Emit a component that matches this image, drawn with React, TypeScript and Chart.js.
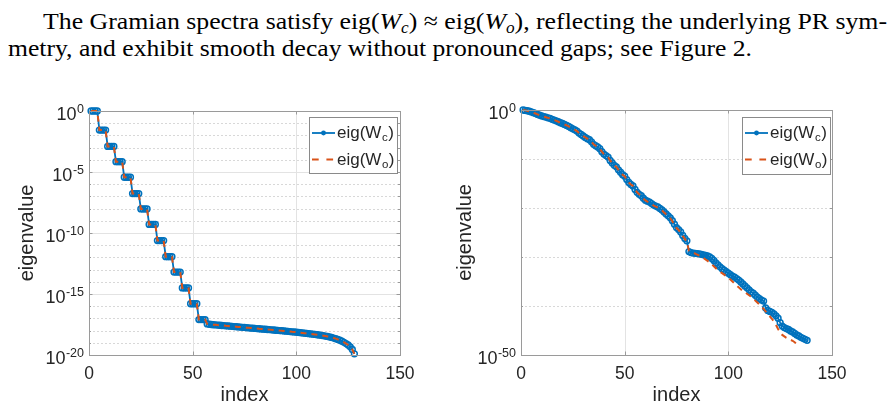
import { useEffect, useLayoutEffect, useRef } from "react";
import { Chart, registerables } from "chart.js";

Chart.register(...registerables);

const INK = "#262626";
const AXIS = "#9a9a9a";
const GRID_MAJOR = "#e3e3e3";
const GRID_MINOR = "#d8d8d8";
const BLUE = "#0072BD";
const ORANGE = "#D95319";
const SANS = '"Liberation Sans", Arial, Helvetica, sans-serif';

// log10 of the Gramian eigenvalues, index 1..N
const leftWcLog = [
  0, 0, 0, 0,
  -1.56, -1.56, -1.56, -1.56,
  -2.9, -2.9, -2.9, -2.9,
  -4.15, -4.15, -4.15, -4.15,
  -5.43, -5.43, -5.43, -5.43,
  -6.77, -6.77, -6.77, -6.77,
  -8.03, -8.03, -8.03, -8.03,
  -9.3, -9.3, -9.3, -9.3,
  -10.62, -10.62, -10.62, -10.62,
  -11.94, -11.94, -11.94, -11.94,
  -13.2, -13.2, -13.2, -13.2,
  -14.5, -14.5, -14.5, -14.5,
  -15.8, -15.8, -15.8, -15.8,
  -17.1, -17.1, -17.1, -17.1,
  -17.45, -17.48, -17.5, -17.52, -17.53, -17.55, -17.56, -17.58, -17.59, -17.61,
  -17.62, -17.64, -17.65, -17.67, -17.68, -17.7, -17.71, -17.73, -17.74, -17.76,
  -17.77, -17.79, -17.8, -17.82, -17.83, -17.85, -17.86, -17.88, -17.89, -17.91,
  -17.92, -17.94, -17.95, -17.97, -17.98, -18.0, -18.01, -18.03, -18.05, -18.06,
  -18.08, -18.1, -18.11, -18.13, -18.15, -18.17, -18.19, -18.21, -18.23, -18.25,
  -18.27, -18.29, -18.31, -18.34, -18.36, -18.39, -18.42, -18.45, -18.48, -18.52,
  -18.56, -18.61, -18.66, -18.72, -18.79, -18.87, -18.96, -19.06, -19.18, -19.33,
  -19.55, -19.9,
];

const leftWoLog = [
  0, 0, 0, 0,
  -1.56, -1.56, -1.56, -1.56,
  -2.9, -2.9, -2.9, -2.9,
  -4.15, -4.15, -4.15, -4.15,
  -5.43, -5.43, -5.43, -5.43,
  -6.77, -6.77, -6.77, -6.77,
  -8.03, -8.03, -8.03, -8.03,
  -9.3, -9.3, -9.3, -9.3,
  -10.62, -10.62, -10.62, -10.62,
  -11.94, -11.94, -11.94, -11.94,
  -13.2, -13.2, -13.2, -13.2,
  -14.5, -14.5, -14.5, -14.5,
  -15.8, -15.8, -15.8, -15.8,
  -17.1, -17.1, -17.1, -17.1,
  -17.45, -17.48, -17.5, -17.52, -17.53, -17.55, -17.56, -17.58, -17.59, -17.61,
  -17.62, -17.64, -17.65, -17.67, -17.68, -17.7, -17.71, -17.73, -17.74, -17.76,
  -17.77, -17.79, -17.8, -17.82, -17.83, -17.85, -17.86, -17.88, -17.89, -17.91,
  -17.92, -17.94, -17.95, -17.97, -17.98, -18.0, -18.01, -18.03, -18.05, -18.06,
  -18.08, -18.1, -18.11, -18.13, -18.15, -18.17, -18.19, -18.21, -18.23, -18.25,
  -18.27, -18.29, -18.31, -18.34, -18.36, -18.39, -18.42, -18.45, -18.48, -18.52,
  -18.56, -18.61, -18.66, -18.72, -18.79, -18.87, -18.96, -19.06, -19.18, -19.33,
  -19.55, -19.9,
];

const rightWcLog = [
  0, -0.08, -0.15, -0.25, -0.4, -0.55, -0.7, -0.9, -1.05, -1.2,
  -1.35, -1.45, -1.6, -1.7, -1.9, -2.05, -2.2, -2.4, -2.6, -2.75,
  -2.95, -3.15, -3.35, -3.6, -3.85, -4.05, -4.3, -4.7, -5.0, -5.3,
  -5.6, -5.85, -6.05, -6.5, -7.0, -7.3, -7.55, -7.9, -8.5, -9.0,
  -9.3, -9.6, -10.3, -10.8, -11.3, -11.6, -12.2, -12.7, -13.2, -13.5,
  -14.2, -14.8, -15.2, -15.5, -16.2, -16.8, -17.2, -17.5, -18.0, -18.4,
  -18.6, -18.8, -19.1, -19.4, -19.6, -19.8, -20.1, -20.4, -20.8, -21.2,
  -21.6, -22.0, -22.6, -23.3, -24.0, -24.4, -24.9, -25.6, -26.2, -26.7,
  -28.9, -29.1, -29.2, -29.25, -29.3, -29.35, -29.45, -29.55, -29.65, -29.8,
  -30.0, -30.3, -30.7, -31.2, -31.6, -32.0, -32.4, -32.7, -33.0, -33.3,
  -33.6, -33.9, -34.1, -34.4, -34.7, -35.1, -35.5, -35.9, -36.3, -36.7,
  -37.1, -37.4, -37.8, -38.2, -38.5, -38.8, -39.0, -40.4, -40.9, -41.1,
  -41.3, -41.6, -42.0, -42.5, -43.4, -44.1, -44.4, -44.6, -44.8, -45.1,
  -45.3, -45.6, -45.9, -46.1, -46.4, -46.6, -46.8, -47.0,
];

const rightWoLog = [
  0, -0.08, -0.16, -0.26, -0.4, -0.56, -0.72, -0.9, -1.06, -1.2,
  -1.34, -1.47, -1.6, -1.72, -1.9, -2.06, -2.22, -2.4, -2.6, -2.76,
  -2.96, -3.15, -3.36, -3.6, -3.85, -4.06, -4.32, -4.7, -5.0, -5.3,
  -5.6, -5.86, -6.08, -6.5, -7.0, -7.3, -7.58, -7.92, -8.5, -9.0,
  -9.32, -9.62, -10.3, -10.8, -11.3, -11.62, -12.2, -12.7, -13.2, -13.52,
  -14.2, -14.8, -15.2, -15.52, -16.2, -16.8, -17.2, -17.55, -18.05, -18.45,
  -18.7, -18.9, -19.2, -19.5, -19.7, -19.9, -20.2, -20.5, -20.9, -21.3,
  -21.7, -22.1, -22.7, -23.4, -24.1, -24.5, -25.0, -25.7, -26.3, -26.9,
  -28.7, -28.9, -29.1, -29.3, -29.5, -29.7, -29.9, -30.2, -30.5, -30.8,
  -31.1, -31.5, -31.9, -32.3, -32.7, -33.0, -33.3, -33.6, -33.9, -34.2,
  -34.6, -35.0, -35.4, -35.8, -36.2, -36.6, -36.9, -37.2, -37.5, -37.8,
  -38.1, -38.5, -38.9, -39.3, -39.7, -40.1, -40.6, -41.1, -41.6, -42.1,
  -42.6, -43.2, -43.9, -44.7, -45.4, -45.9, -46.2, -46.5, -46.7, -46.9,
  -47.1, -47.4, -47.8, -48.2,
];

const indexTicks = [0, 50, 100, 150];
const leftLabelDecades = [0, -5, -10, -15, -20];
const leftMinorDecades = [
  -1, -2, -3, -4, -6, -7, -8, -9, -11, -12, -13, -14, -16, -17, -18, -19,
];
const rightLabelDecades = [0, -50];
const rightMinorDecades = [-10, -20, -30, -40];

type Box = { left: number; top: number; right: number; bottom: number };

type Panel = {
  wc: number[];
  wo: number[];
  bottomDecade: number;
  labelDecades: number[];
  minorDecades: number[];
  area: Box;
  legend: Box;
  yTitleX: number;
};

const W = 895;
const H = 408;

const panels: Panel[] = [
  {
    wc: leftWcLog,
    wo: leftWoLog,
    bottomDecade: -20,
    labelDecades: leftLabelDecades,
    minorDecades: leftMinorDecades,
    area: { left: 89, top: 111, right: 400, bottom: 355 },
    legend: { left: 309, top: 117, right: 397, bottom: 173 },
    yTitleX: 33,
  },
  {
    wc: rightWcLog,
    wo: rightWoLog,
    bottomDecade: -50,
    labelDecades: rightLabelDecades,
    minorDecades: rightMinorDecades,
    area: { left: 521, top: 110, right: 832, bottom: 355 },
    legend: { left: 742, top: 117, right: 830, bottom: 174 },
    yTitleX: 471,
  },
];

const toPoints = (logs: number[]) =>
  logs.map((v, i) => ({ x: i + 1, y: Math.pow(10, v) }));

function hLine(ctx: CanvasRenderingContext2D, x0: number, x1: number, y: number) {
  ctx.beginPath();
  ctx.moveTo(x0, Math.round(y) + 0.5);
  ctx.lineTo(x1, Math.round(y) + 0.5);
  ctx.stroke();
}

function vLine(ctx: CanvasRenderingContext2D, x: number, y0: number, y1: number) {
  ctx.beginPath();
  ctx.moveTo(Math.round(x) + 0.5, y0);
  ctx.lineTo(Math.round(x) + 0.5, y1);
  ctx.stroke();
}

// "10" with a raised exponent, right-aligned at xr
function drawPower(ctx: CanvasRenderingContext2D, exp: number, xr: number, ty: number) {
  ctx.fillStyle = INK;
  ctx.textAlign = "right";
  ctx.textBaseline = "alphabetic";
  const e = String(exp);
  ctx.font = `12.5px ${SANS}`;
  const we = ctx.measureText(e).width;
  ctx.fillText(e, xr, ty + 1.5);
  ctx.font = `18px ${SANS}`;
  ctx.fillText("10", xr - we - 0.5, ty + 8.5);
}

// legend text such as eig(W_c)
function drawSubText(ctx: CanvasRenderingContext2D, x: number, base: number, sub: string) {
  ctx.fillStyle = INK;
  ctx.textAlign = "left";
  ctx.textBaseline = "alphabetic";
  ctx.font = `17px ${SANS}`;
  const head = "eig(W";
  ctx.fillText(head, x, base);
  let cx = x + ctx.measureText(head).width + 0.5;
  ctx.font = `11.5px ${SANS}`;
  ctx.fillText(sub, cx, base + 3);
  cx += ctx.measureText(sub).width + 0.5;
  ctx.font = `17px ${SANS}`;
  ctx.fillText(")", cx, base);
}

function makeFramePlugin(p: Panel) {
  return {
    id: "matlabFrame",
    beforeDatasetsDraw(chart: Chart) {
      const { ctx } = chart;
      const x = chart.scales.x;
      const y = chart.scales.y;
      const a = p.area;
      ctx.save();
      ctx.lineWidth = 1;
      // dotted minor grid
      ctx.strokeStyle = GRID_MINOR;
      ctx.setLineDash([2, 2]);
      for (const d of p.minorDecades) hLine(ctx, a.left, a.right, y.getPixelForValue(Math.pow(10, d)));
      // solid major grid
      ctx.setLineDash([]);
      ctx.strokeStyle = GRID_MAJOR;
      for (const d of p.labelDecades) {
        if (d === 0 || d === p.bottomDecade) continue;
        hLine(ctx, a.left, a.right, y.getPixelForValue(Math.pow(10, d)));
      }
      for (const t of indexTicks) {
        if (t === 0 || t === 150) continue;
        vLine(ctx, x.getPixelForValue(t), a.top, a.bottom);
      }
      ctx.restore();
    },
    afterDatasetsDraw(chart: Chart) {
      const { ctx } = chart;
      const x = chart.scales.x;
      const y = chart.scales.y;
      const a = p.area;
      ctx.save();
      ctx.setLineDash([]);
      ctx.lineWidth = 1;
      ctx.strokeStyle = AXIS;
      // axes box
      ctx.strokeRect(a.left + 0.5, a.top + 0.5, a.right - a.left, a.bottom - a.top);
      // inward tick marks
      for (const t of indexTicks) {
        const px = x.getPixelForValue(t);
        vLine(ctx, px, a.bottom - 3.5, a.bottom);
        vLine(ctx, px, a.top, a.top + 3.5);
      }
      for (const d of p.labelDecades) {
        const py = y.getPixelForValue(Math.pow(10, d));
        hLine(ctx, a.left, a.left + 3.5, py);
        hLine(ctx, a.right - 3.5, a.right, py);
      }
      for (const d of p.minorDecades) {
        const py = y.getPixelForValue(Math.pow(10, d));
        hLine(ctx, a.left, a.left + 2, py);
        hLine(ctx, a.right - 2, a.right, py);
      }

      // tick labels
      ctx.fillStyle = INK;
      ctx.font = `17.5px ${SANS}`;
      ctx.textAlign = "center";
      ctx.textBaseline = "alphabetic";
      for (const t of indexTicks) ctx.fillText(String(t), x.getPixelForValue(t), 378.5);
      for (const d of p.labelDecades) drawPower(ctx, d, a.left - 5, y.getPixelForValue(Math.pow(10, d)));

      // axis titles
      ctx.font = `20px ${SANS}`;
      ctx.textAlign = "center";
      ctx.fillText("index", (a.left + a.right) / 2, 401);
      ctx.save();
      ctx.translate(p.yTitleX, (a.top + a.bottom) / 2);
      ctx.rotate(-Math.PI / 2);
      ctx.fillText("eigenvalue", 0, 0);
      ctx.restore();

      // legend
      const L = p.legend;
      ctx.fillStyle = "#ffffff";
      ctx.fillRect(L.left, L.top, L.right - L.left, L.bottom - L.top);
      ctx.strokeStyle = "#8a8a8a";
      ctx.strokeRect(L.left + 0.5, L.top + 0.5, L.right - L.left, L.bottom - L.top);
      const r1 = L.top + 16;
      const r2 = L.top + 42.5;
      const lx0 = L.left + 3;
      const lx1 = L.left + 26;
      ctx.strokeStyle = BLUE;
      ctx.lineWidth = 1.8;
      ctx.beginPath();
      ctx.moveTo(lx0, r1);
      ctx.lineTo(lx1, r1);
      ctx.stroke();
      ctx.fillStyle = BLUE;
      ctx.beginPath();
      ctx.arc((lx0 + lx1) / 2, r1, 2.4, 0, Math.PI * 2);
      ctx.fill();
      ctx.strokeStyle = ORANGE;
      ctx.setLineDash([6.7, 7.7]);
      ctx.beginPath();
      ctx.moveTo(lx0, r2);
      ctx.lineTo(lx1, r2);
      ctx.stroke();
      ctx.setLineDash([]);
      drawSubText(ctx, L.left + 28, r1 + 5, "c");
      drawSubText(ctx, L.left + 28, r2 + 5, "o");
      ctx.restore();
    },
  };
}

function SpectrumPanel({ panel }: { panel: Panel }) {
  const ref = useRef<HTMLCanvasElement | null>(null);
  useEffect(() => {
    const canvas = ref.current;
    if (!canvas) return;
    const a = panel.area;
    const chart = new Chart(canvas, {
      type: "line",
      data: {
        datasets: [
          {
            label: "eig(W_c)",
            data: toPoints(panel.wc),
            order: 1,
            borderColor: BLUE,
            borderWidth: 1.8,
            pointRadius: 2.9,
            pointBorderWidth: 1.5,
            pointBorderColor: BLUE,
            pointBackgroundColor: "rgba(0,0,0,0)",
            pointStyle: "circle",
            tension: 0,
            clip: 6,
          },
          {
            label: "eig(W_o)",
            data: toPoints(panel.wo),
            order: 0,
            borderColor: ORANGE,
            borderWidth: 2,
            borderDash: [6, 5],
            pointRadius: 0,
            tension: 0,
            clip: 6,
          },
        ],
      },
      options: {
        responsive: false,
        animation: false,
        devicePixelRatio: 1,
        events: [],
        layout: {
          padding: { left: a.left, top: a.top, right: W - a.right, bottom: H - a.bottom },
        },
        scales: {
          x: { type: "linear", display: false, min: 0, max: 150 },
          y: { type: "logarithmic", display: false, min: Math.pow(10, panel.bottomDecade), max: 1 },
        },
        plugins: { legend: { display: false }, tooltip: { enabled: false } },
      },
      plugins: [makeFramePlugin(panel)],
    } as any);
    return () => chart.destroy();
  }, [panel]);
  return (
    <canvas
      ref={ref}
      width={W}
      height={H}
      style={{ position: "absolute", left: 0, top: 0, width: W, height: H }}
    />
  );
}

const serif = '"Liberation Serif", "Times New Roman", serif';

// one line of body text, stretched horizontally to its set width
function TextLine({
  left,
  top,
  width,
  children,
}: {
  left: number;
  top: number;
  width: number;
  children: React.ReactNode;
}) {
  const ref = useRef<HTMLSpanElement | null>(null);
  useLayoutEffect(() => {
    const el = ref.current;
    if (!el) return;
    el.style.transform = "none";
    const w = el.getBoundingClientRect().width;
    if (w > 0) el.style.transform = `scaleX(${width / w})`;
  }, [width]);
  return (
    <span
      ref={ref}
      style={{
        position: "absolute",
        left,
        top,
        whiteSpace: "nowrap",
        fontFamily: serif,
        fontSize: 24,
        lineHeight: "24px",
        color: "#000",
        transformOrigin: "0 0",
      }}
    >
      {children}
    </span>
  );
}

const subStyle = { fontSize: 16, fontStyle: "italic" as const, verticalAlign: "-4px", lineHeight: 0 };

export default function App() {
  return (
    <div
      style={{
        position: "absolute",
        left: 0,
        top: 0,
        width: W,
        height: H,
        background: "#ffffff",
        overflow: "hidden",
      }}
    >
      <TextLine left={43} top={9} width={844}>
        The Gramian spectra satisfy eig(<i>W</i>
        <sub style={subStyle}>c</sub>) ≈ eig(<i>W</i>
        <sub style={subStyle}>o</sub>), reflecting the underlying PR sym-
      </TextLine>
      <TextLine left={8} top={35.5} width={744}>
        metry, and exhibit smooth decay without pronounced gaps; see Figure 2.
      </TextLine>
      {panels.map((p, i) => (
        <SpectrumPanel key={i} panel={p} />
      ))}
    </div>
  );
}
